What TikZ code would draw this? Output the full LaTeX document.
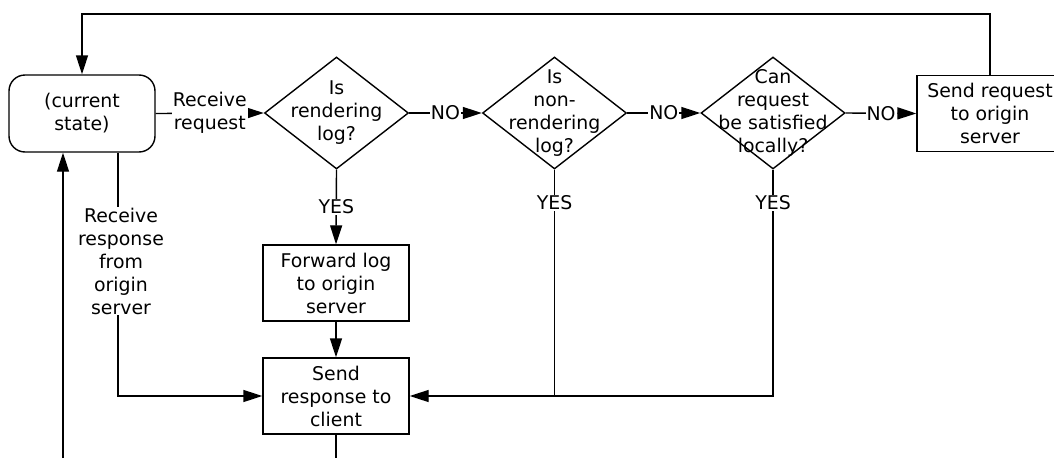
\documentclass[tikz,border=0pt]{standalone}
\usepackage{fontspec}
\setmainfont{DejaVu Sans}
\usetikzlibrary{shapes.geometric,arrows.meta}
\begin{document}
\begin{tikzpicture}[x=1pt,y=-1pt,
  font=\fontsize{18.9}{23}\selectfont,
  line width=1.4pt,
  arr/.style={-{Triangle[length=19pt,width=12pt]}},
  box/.style={draw, minimum width=146pt, minimum height=76pt, inner sep=0pt, align=center},
  dia/.style={draw, diamond, minimum width=144pt, minimum height=112pt, inner sep=0pt},
  txt/.style={align=center, inner sep=0pt},
  lbl/.style={fill=white, inner sep=1pt, align=center}]
\useasboundingbox (0,0) rectangle (1054,458);

% nodes
\node[box, rounded corners=16pt, minimum height=77pt] (cs) at (82,113.5) {(current\\state)};
\node[dia] (d1) at (336.5,113) {};
\node[txt] (t1) at (d1.center) {Is\\rendering\\log?};
\node[dia] (d2) at (554.5,113) {};
\node[txt] (t2) at (d2.center) {Is\\non-\\rendering\\log?};
\node[dia] (d3) at (773,113) {};
\node[txt] (t3) at (d3.center) {Can\\request\\be satisfied\\locally?};
\node[box] (sq) at (990,113.5) {Send request\\to origin\\server};
\node[box] (fw) at (336,283) {Forward log\\to origin\\server};
\node[box] (sr) at (336,396) {Send\\response to\\client};

% helper coordinates
\coordinate (top) at (0,14);
\coordinate (rr) at (118,0);
\coordinate (lb) at (63,458);
\coordinate (bb) at (336,458);

% connectors
\draw[arr] (cs.east) -- node[lbl]{Receive\\request} (d1.west);
\draw[arr] (d1.east) -- node[lbl]{NO} (d2.west);
\draw[arr] (d2.east) -- node[lbl]{NO} (d3.west);
\draw[arr] (d3.east) -- node[lbl]{NO} (sq.west);
\draw[arr] (d1.south) -- node[lbl]{YES} (fw.north);
\draw[arr] (fw.south) -- (sr.north);
\draw (d2.south) -- (d2.south |- sr.east);
\draw[arr] (d3.south) -- (d3.south |- sr.east) -- (sr.east);
\node[lbl] (y2) at (554.5,203) {YES};
\node[lbl] (y3) at (773,203) {YES};
\draw[arr] (sq.north) -- (sq.north |- top) -| (cs.north);
\draw[arr] (cs.south -| rr) -- (rr |- sr.west) -- (sr.west);
\node[lbl] (rlab) at (121,261) {Receive\\response\\from\\origin\\server};
\draw[arr] (lb) -- (lb |- cs.south);
\draw (sr.south) -- (bb);
\end{tikzpicture}
\end{document}
